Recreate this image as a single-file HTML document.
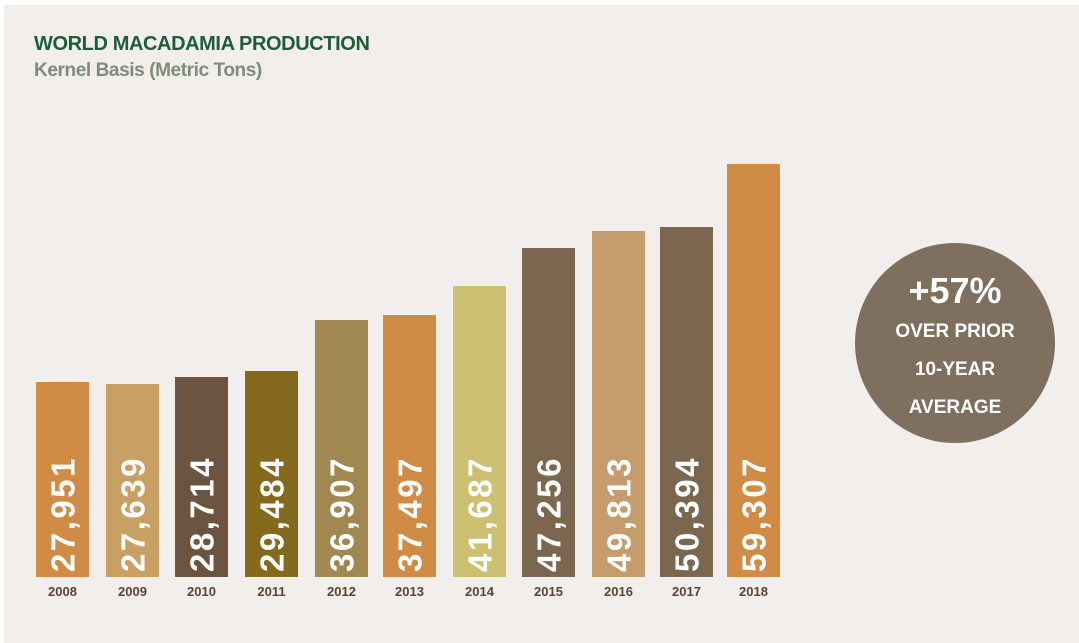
<!DOCTYPE html>
<html><head><style>
body{margin:0;width:1079px;height:643px;background:#fff;overflow:hidden;font-family:"Liberation Sans",sans-serif}
#bg{position:absolute;left:4px;top:5px;width:1075px;height:638px;background:#f1eeeb}
.t1{position:absolute;left:34px;top:33px;font-weight:bold;font-size:20px;color:#1e5c3a;letter-spacing:-0.4px}
.t2{position:absolute;left:34px;top:60px;font-weight:bold;font-size:19px;color:#7e8c78;letter-spacing:-0.4px}
.bar{position:absolute;width:53px;bottom:66px}
.v{position:absolute;left:50%;bottom:5px;transform-origin:0 100%;transform:rotate(-90deg) translate(0,50%);white-space:nowrap;color:#fff;font-weight:bold;font-size:33px;letter-spacing:2.5px;line-height:1}
.y{position:absolute;top:584px;width:53px;text-align:center;font-weight:bold;font-size:13px;color:#5a4436}
.c{position:absolute;left:855px;top:243px;width:200px;height:200px;border-radius:50%;background:#7e6f5e;color:#fff;text-align:center;font-weight:bold}
</style></head><body>
<div id="bg"></div>
<div class="t1">WORLD MACADAMIA PRODUCTION</div>
<div class="t2">Kernel Basis (Metric Tons)</div>

<div class="bar" style="left:36px;top:382px;background:#d08b44"><div class="v">27,951</div></div>
<div class="bar" style="left:106px;top:384px;background:#c9a064"><div class="v">27,639</div></div>
<div class="bar" style="left:175px;top:377px;background:#6b5440"><div class="v">28,714</div></div>
<div class="bar" style="left:245px;top:371px;background:#85691c"><div class="v">29,484</div></div>
<div class="bar" style="left:315px;top:320px;background:#a08850"><div class="v">36,907</div></div>
<div class="bar" style="left:383px;top:315px;background:#d08b44"><div class="v">37,497</div></div>
<div class="bar" style="left:453px;top:286px;background:#cdc070"><div class="v">41,687</div></div>
<div class="bar" style="left:522px;top:248px;background:#7b6650"><div class="v">47,256</div></div>
<div class="bar" style="left:592px;top:231px;background:#c59c6c"><div class="v">49,813</div></div>
<div class="bar" style="left:660px;top:227px;background:#7b6650"><div class="v">50,394</div></div>
<div class="bar" style="left:727px;top:164px;background:#d08b44"><div class="v">59,307</div></div>

<div class="y" style="left:36px">2008</div>
<div class="y" style="left:106px">2009</div>
<div class="y" style="left:175px">2010</div>
<div class="y" style="left:245px">2011</div>
<div class="y" style="left:315px">2012</div>
<div class="y" style="left:383px">2013</div>
<div class="y" style="left:453px">2014</div>
<div class="y" style="left:522px">2015</div>
<div class="y" style="left:592px">2016</div>
<div class="y" style="left:660px">2017</div>
<div class="y" style="left:727px">2018</div>

<div class="c">
<div style="position:absolute;top:27px;width:100%;font-size:36px">+57%</div>
<div style="position:absolute;top:70px;width:100%;font-size:19px;line-height:38px">OVER PRIOR<br>10-YEAR<br>AVERAGE</div>
</div>
</body></html>
